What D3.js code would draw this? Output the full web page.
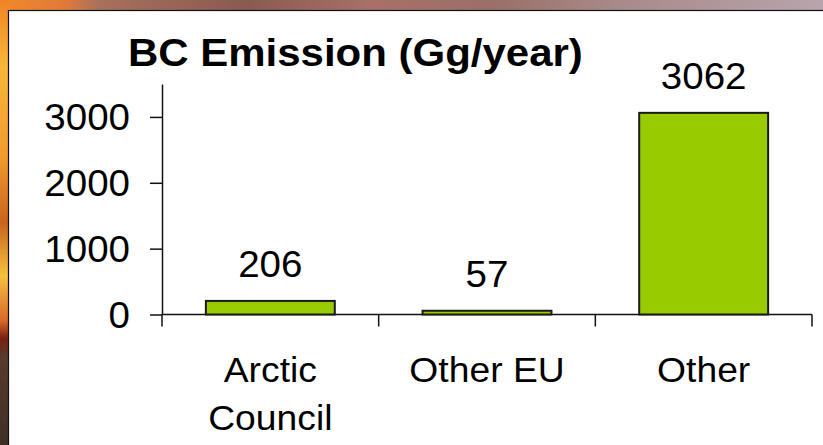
<!DOCTYPE html>
<html>
<head>
<meta charset="utf-8">
<script src="https://cdn.jsdelivr.net/npm/d3@7"></script>
<style>
  html, body { margin: 0; padding: 0; background: #fff; }
  svg { display: block; }
  text { font-family: "Liberation Sans", Arial, sans-serif; fill: #000; }
</style>
</head>
<body>
<svg id="chart" width="823" height="445"></svg>
<script>
// ---- data ----
const categories = ["Arctic Council", "Other EU", "Other"];
const categoryLines = [["Arctic", "Council"], ["Other EU"], ["Other"]];
const values = [206, 57, 3062];
const yTicks = [0, 1000, 2000, 3000];
const title = "BC Emission (Gg/year)";

// ---- layout ----
const W = 823, H = 445;
const svg = d3.select("#chart");
const defs = svg.append("defs");

// textured photo background approximated by gradients
const gTop = defs.append("linearGradient").attr("id", "gTop").attr("x1", 0).attr("x2", 1).attr("y1", 0).attr("y2", 0);
[["0%", "#f08a2a"], ["8%", "#e07a3a"], ["12%", "#a8705e"], ["30%", "#8a5a50"], ["45%", "#a87068"],
 ["60%", "#9a7068"], ["75%", "#a88a8a"], ["100%", "#b8a4ac"]].forEach(([o, c]) =>
  gTop.append("stop").attr("offset", o).attr("stop-color", c));
const gLeft = defs.append("linearGradient").attr("id", "gLeft").attr("x1", 0).attr("x2", 0).attr("y1", 0).attr("y2", 1);
[["0%", "#f08424"], ["15%", "#f8b63a"], ["35%", "#f39a2e"], ["50%", "#c8641e"], ["62%", "#f8c040"],
 ["72%", "#d86a28"], ["76%", "#7a2010"], ["80%", "#5a3a2c"], ["100%", "#3e3028"]].forEach(([o, c]) =>
  gLeft.append("stop").attr("offset", o).attr("stop-color", c));

svg.append("rect").attr("width", W).attr("height", 12).attr("fill", "url(#gTop)");
svg.append("rect").attr("y", 0).attr("width", 10).attr("height", H).attr("fill", "url(#gLeft)");

// white panel
svg.append("rect").attr("x", 8.5).attr("y", 10.5).attr("width", W).attr("height", H)
  .attr("fill", "#fff").attr("stroke", "#111").attr("stroke-width", 1.2);

const plot = { left: 162, right: 812, top: 84, bottom: 314.5 };

const x = d3.scaleBand().domain(categories).range([plot.left, plot.right]).padding(0);
const y = d3.scaleLinear().domain([0, 3500]).range([plot.bottom, plot.top]);

const SX = 1.07; // horizontal stretch of the original rendering

// title
svg.append("text")
  .attr("transform", `translate(128,65.5) scale(1.105,1)`)
  .attr("font-size", 38).attr("font-weight", "bold")
  .text(title);

// y axis
const yAxis = d3.axisLeft(y).tickValues(yTicks).tickSize(12).tickSizeOuter(0).tickFormat(d3.format("d"));
const gy = svg.append("g").attr("transform", `translate(${plot.left},0)`).call(yAxis);
gy.select(".domain").attr("stroke", "#111").attr("stroke-width", 1.5);
gy.selectAll(".tick line").attr("stroke", "#111").attr("stroke-width", 1.5);
gy.selectAll(".tick text").remove();
gy.selectAll(".tick").append("text")
  .attr("transform", `translate(-32,0) scale(${SX},1)`)
  .attr("text-anchor", "end").attr("dy", "0.35em")
  .attr("font-size", 36)
  .text(d => d3.format("d")(d));

// x axis: boundary ticks
const bounds = categories.map(c => x(c)).concat([x(categories[categories.length - 1]) + x.bandwidth()]);
const gx = svg.append("g");
gx.append("line").attr("x1", plot.left).attr("x2", plot.right)
  .attr("y1", y(0)).attr("y2", y(0)).attr("stroke", "#111").attr("stroke-width", 1.5);
gx.selectAll("line.bt").data(bounds).join("line").attr("class", "bt")
  .attr("x1", d => d).attr("x2", d => d)
  .attr("y1", y(0)).attr("y2", y(0) + 12)
  .attr("stroke", "#111").attr("stroke-width", 1.5);

// category labels
categories.forEach((c, i) => {
  const cx = x(c) + x.bandwidth() / 2;
  categoryLines[i].forEach((line, j) => {
    svg.append("text")
      .attr("transform", `translate(${cx},${381.5 + j * 48.5}) scale(1.035,1)`)
      .attr("text-anchor", "middle").attr("font-size", 36)
      .text(line);
  });
});

// bars
const barW = x.bandwidth() * 0.595;
const bars = svg.append("g");
bars.selectAll("rect").data(values).join("rect")
  .attr("x", (d, i) => x(categories[i]) + (x.bandwidth() - barW) / 2)
  .attr("width", barW)
  .attr("y", d => y(d))
  .attr("height", d => y(0) - y(d))
  .attr("fill", "#99cc00")
  .attr("stroke", "#1a1a1a").attr("stroke-width", 2);

// value labels
svg.append("g").selectAll("text").data(values).join("text")
  .attr("transform", (d, i) => `translate(${x(categories[i]) + x.bandwidth() / 2},${y(d) - 24}) scale(${SX},1)`)
  .attr("text-anchor", "middle").attr("font-size", 36)
  .text(d => d);
</script>
</body>
</html>
